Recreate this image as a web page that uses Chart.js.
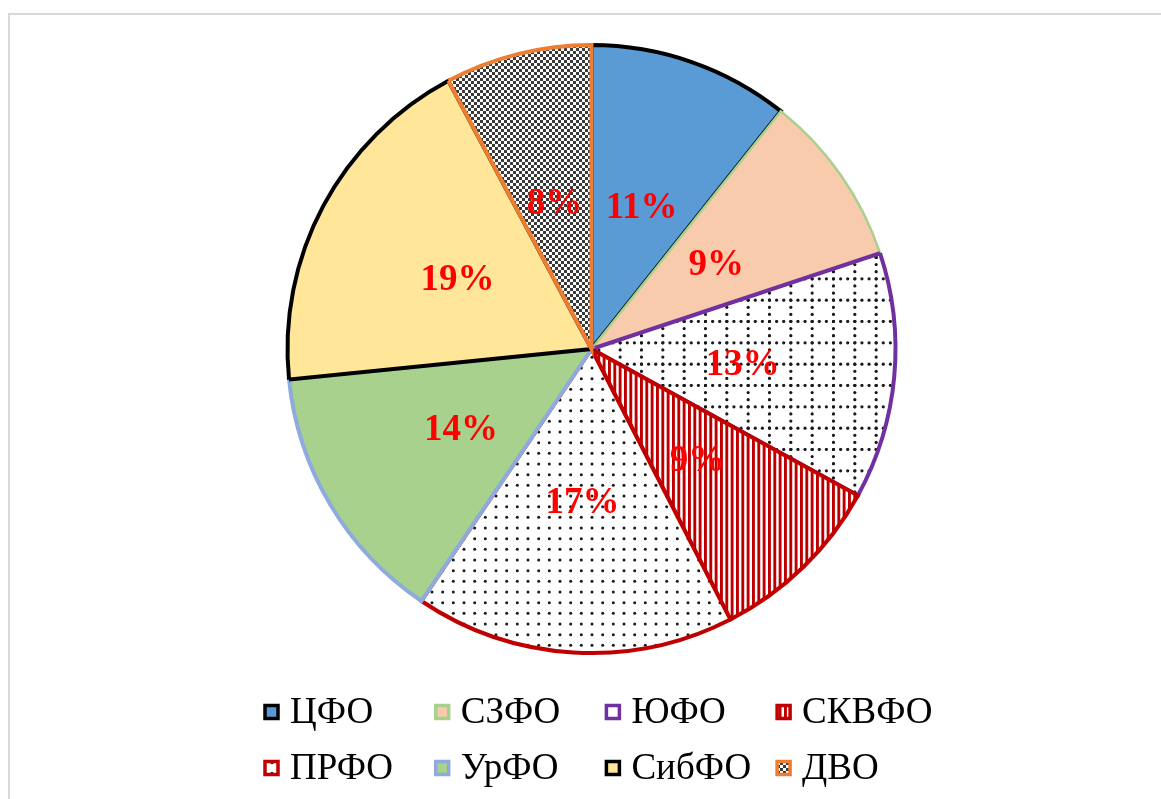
<!DOCTYPE html>
<html lang="ru">
<head>
<meta charset="utf-8">
<title>Федеральные округа</title>
<script src="https://cdn.jsdelivr.net/npm/chart.js@4.4.1/dist/chart.umd.min.js"></script>
<style>
  html, body { margin: 0; padding: 0; background: #fff; overflow: hidden; }
  #frame {
    position: absolute; left: 8px; top: 13px;
    width: 1300px; height: 900px;
    border: 2px solid #d9d9d9;
  }
  #myChart { position: absolute; left: 0; top: 0; }
</style>
</head>
<body>
<div id="frame"></div>
<canvas id="myChart" width="1161" height="799"></canvas>
<script>
// districts and their shares (%)
const districts = ["ЦФО", "СЗФО", "ЮФО", "СКВФО", "ПРФО", "УрФО", "СибФО", "ДВО"];
const shares = [10.7, 9.2, 13.1, 9.45, 17.0, 13.95, 18.8, 7.8];

const canvas = document.getElementById("myChart");
const ctx = canvas.getContext("2d");

function makePattern(size, draw) {
  const c = document.createElement("canvas");
  c.width = size;
  c.height = size;
  const g = c.getContext("2d");
  g.fillStyle = "#ffffff";
  g.fillRect(0, 0, size, size);
  draw(g);
  return ctx.createPattern(c, "repeat");
}

// dotted grid (ЮФО)
const gridPattern = makePattern(64, (g) => {
  g.fillStyle = "#1a1a1a";
  const cell = 64 / 3;
  const step = 64 / 9;
  for (let k = 0; k < 3; k++) {
    for (let j = 0; j < 9; j++) {
      g.beginPath();
      g.arc(k * cell + 1.5, j * step + 1.5, 1.6, 0, Math.PI * 2);
      g.fill();
      g.beginPath();
      g.arc(j * step + 1.5, k * cell + 1.5, 1.6, 0, Math.PI * 2);
      g.fill();
    }
  }
});

// red vertical stripes (СКВФО)
const stripePattern = makePattern(16, (g) => {
  g.fillStyle = "#c00000";
  for (let k = 0; k < 3; k++) {
    g.fillRect(k * 16 / 3, 0, 2.9, 16);
  }
});

// sparse dots (ПРФО)
const dotPattern = makePattern(32, (g) => {
  g.fillStyle = "#1a1a1a";
  for (let i = 0; i < 3; i++) {
    for (let j = 0; j < 3; j++) {
      g.beginPath();
      g.arc(5.33 + i * 32 / 3, 5.33 + j * 32 / 3, 1.5, 0, Math.PI * 2);
      g.fill();
    }
  }
});

// small checker (ДВО)
const checkerPattern = makePattern(6, (g) => {
  g.fillStyle = "#3a3a3a";
  g.fillRect(0, 0, 3, 3);
  g.fillRect(3, 3, 3, 3);
});

const fills = ["#5b9bd5", "#f8cbad", gridPattern, stripePattern, dotPattern, "#a9d18e", "#ffe699", checkerPattern];
const borders = ["#000000", "#a9d18e", "#7030a0", "#c00000", "#c00000", "#8faadc", "#000000", "#ed7d31"];
const borderWidths = [4, 2.5, 4, 4, 4, 4, 4, 4];

const labelFont = 'bold 37px "Liberation Serif", "Times New Roman", serif';
const legendFont = '37px "Liberation Serif", "Times New Roman", serif';

// percent labels inside the slices
const sliceLabels = {
  id: "sliceLabels",
  afterDatasetsDraw(chart) {
    const meta = chart.getDatasetMeta(0);
    const data = chart.data.datasets[0].data;
    const total = data.reduce((a, b) => a + b, 0);
    const c = chart.ctx;
    c.save();
    c.font = labelFont;
    c.fillStyle = "#ff0000";
    c.textAlign = "center";
    c.textBaseline = "middle";
    meta.data.forEach((arc, i) => {
      const p = arc.tooltipPosition();
      c.fillText(Math.round((data[i] / total) * 100) + "%", p.x, p.y + 3);
    });
    c.restore();
  },
};

// legend laid out as a 4 x 2 grid like the original
const gridLegend = {
  id: "gridLegend",
  afterDraw(chart) {
    const c = chart.ctx;
    const left = 263;
    const colW = 170.7;
    const rows = [712, 768];
    c.save();
    c.font = legendFont;
    c.textBaseline = "middle";
    chart.data.labels.forEach((name, i) => {
      const x = left + (i % 4) * colW;
      const y = rows[Math.floor(i / 4)];
      c.fillStyle = fills[i];
      c.fillRect(x + 2, y - 6.5, 13, 13);
      c.lineWidth = 3.5;
      c.strokeStyle = borders[i];
      c.strokeRect(x + 2, y - 6.5, 13, 13);
      c.fillStyle = "#000";
      c.fillText(name, x + 27, y + 1);
    });
    c.restore();
  },
};

new Chart(canvas, {
  type: "pie",
  data: {
    labels: districts,
    datasets: [
      {
        data: shares,
        backgroundColor: fills,
        borderColor: borders,
        borderWidth: borderWidths,
        borderJoinStyle: "miter",
      },
    ],
  },
  options: {
    responsive: false,
    animation: false,
    radius: 304,
    layout: {
      padding: { top: 40, bottom: 141, left: 40, right: 18 },
    },
    plugins: {
      legend: { display: false },
      tooltip: { enabled: false },
    },
  },
  plugins: [sliceLabels, gridLegend],
});
</script>
</body>
</html>
